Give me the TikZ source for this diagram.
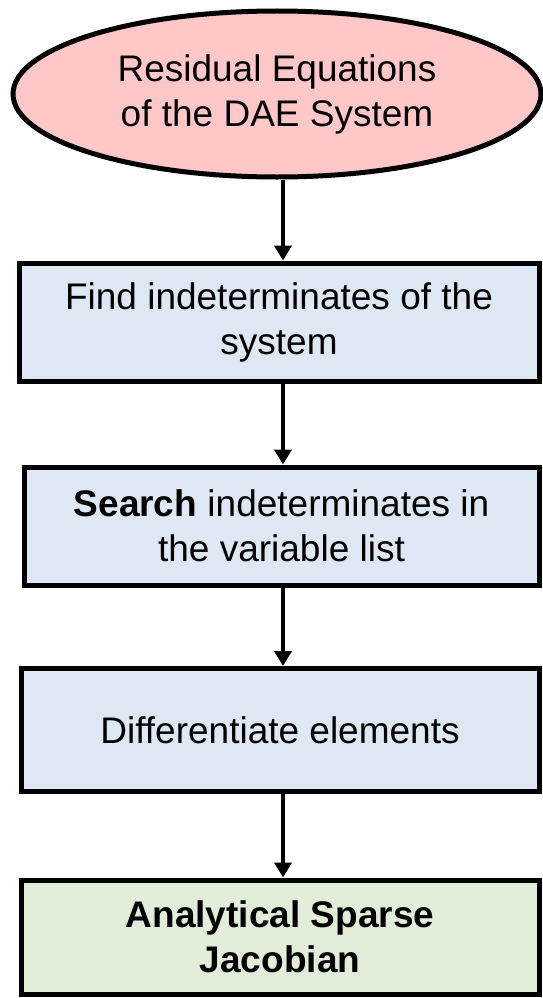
\documentclass[tikz,border=0pt]{standalone}
\usepackage{fontspec}
\setmainfont{Liberation Sans}
\usetikzlibrary{shapes.geometric}
\usetikzlibrary{arrows.meta}

\definecolor{startpink}{HTML}{FFC7C7}
\definecolor{stepblue}{HTML}{DDE8F4}
\definecolor{endgreen}{HTML}{E1EDD9}

\begin{document}
\begin{tikzpicture}[x=1pt, y=-1pt,
  font=\fontsize{37}{45}\selectfont,
  startnode/.style={ellipse, draw, line width=5pt, fill=startpink, align=center,
    minimum width=528pt, minimum height=166pt, inner sep=0pt},
  stepbox/.style={rectangle, draw, line width=5pt, fill=stepblue, align=center,
    minimum width=517pt, minimum height=118pt, inner sep=0pt},
  flow/.style={line width=4pt, -{Triangle[width=17pt, length=15pt]}}]
\useasboundingbox (0,0) rectangle (543,998);
\node[startnode] (res) at (277,94) {Residual Equations\\of the DAE System};
\node[stepbox, minimum width=520pt] (find) at (279,322) {Find indeterminates of the\\system};
\node[stepbox, minimum width=515pt] (search) at (281.5,526) {\textbf{Search} indeterminates in\\the variable list};
\node[stepbox, minimum width=518pt, minimum height=123pt] (diff) at (280,730) {Differentiate elements};
\node[stepbox, minimum width=518pt, minimum height=114pt, fill=endgreen] (jac) at (280,937)
  {\textbf{Analytical Sparse}\\\textbf{Jacobian}};
\draw[flow] (res.south -| 283,0) -- (find.north -| 283,0);
\draw[flow] (find.south -| 283,0) -- (search.north -| 283,0);
\draw[flow] (search.south -| 283,0) -- (diff.north -| 283,0);
\draw[flow] (diff.south -| 283,0) -- (jac.north -| 283,0);
\end{tikzpicture}
\end{document}
